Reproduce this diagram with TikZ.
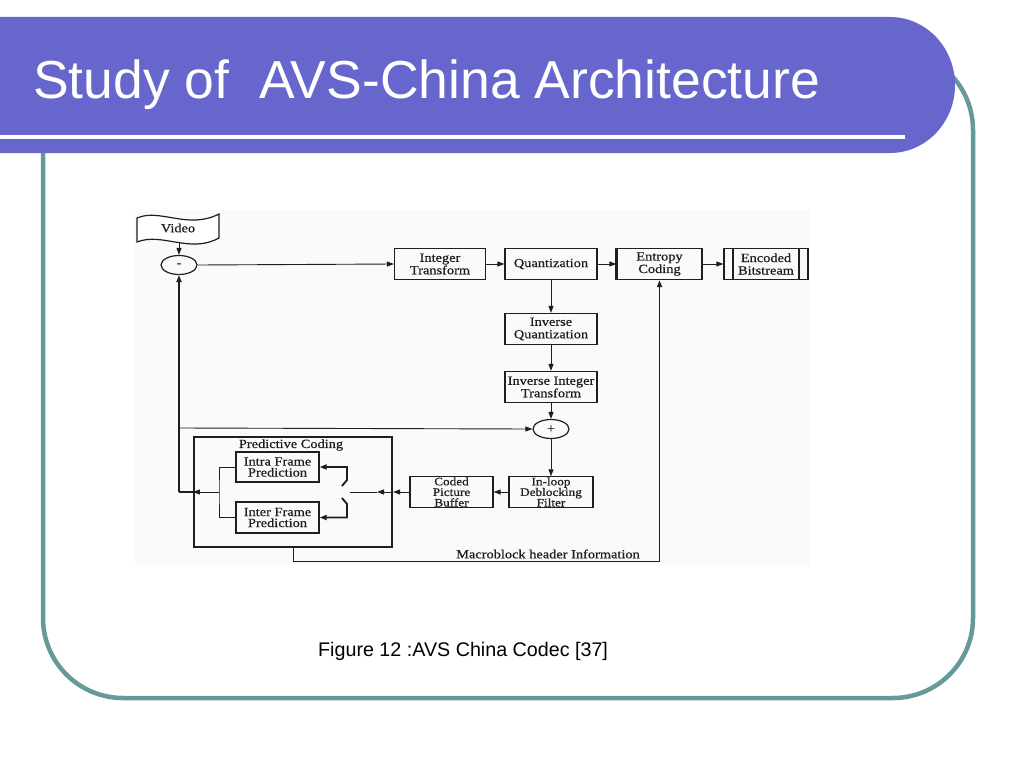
\documentclass[tikz,border=0pt]{standalone}
\usepackage{fontspec}
\setmainfont{Liberation Sans}
\newfontfamily\diagfont{Liberation Serif}[FakeStretch=1.15,FakeBold=0.6]
\usetikzlibrary{arrows.meta,shapes.geometric}
\definecolor{hdr}{RGB}{102,102,204}
\definecolor{tealframe}{RGB}{102,153,153}
\definecolor{ink}{RGB}{30,30,30}
\begin{document}
\begin{tikzpicture}[x=1pt,y=-1pt,
  dfont/.style={font=\diagfont\fontsize{12.5}{12.5}\selectfont},
  tfont/.style={font=\diagfont\fontsize{11.5}{10.6}\selectfont},
  blk/.style={draw=ink, line width=1.2pt, inner sep=0.5pt, align=center, text=ink, dfont, minimum height=31},
  circ/.style={draw=ink, line width=1.2pt, ellipse, inner sep=0pt, minimum width=36, minimum height=19, dfont, text=ink},
  lbl/.style={inner sep=0pt, text=ink, dfont},
  arr/.style={draw=ink, line width=0.9pt, -{Triangle[length=7pt,width=5pt]}},
  ln/.style={draw=ink, line width=0.9pt},
  thk/.style={line width=1.9pt}
]
\useasboundingbox (0,0) rectangle (1024,768);
\fill[white] (0,0) rectangle (1024,768);
% slide frame
\draw[tealframe, line width=4.5pt, rounded corners=80] (43,50) rectangle (973,698);
\fill[hdr] (0,17) -- (890,17) arc[start angle=-90, end angle=90, x radius=65, y radius=68] -- (0,153) -- cycle;
\fill[white] (0,135) rectangle (905,139);
\node[anchor=base west, inner sep=0pt, white, font=\fontsize{53.5}{60}\selectfont] (title) at (33,98) {Study of\ \ AVS-China Architecture};
\node[anchor=base west, inner sep=0pt, black, font=\fontsize{19.7}{22}\selectfont] (caption) at (318,656) {Figure 12 :AVS China Codec [37]};
% diagram background
\fill[black!2] (135,210) rectangle (810,565);
% video flag
\draw[ink, line width=1.2pt, fill=white] (137,218) .. controls (160,208) and (188,230) .. (219,214) -- (219,238) .. controls (190,254) and (162,232) .. (137,242) -- cycle;
\node[lbl] (video) at (178,228) {Video};
\coordinate (vbot) at (179,243);
% nodes
\node[circ] (minus) at (179,265) {-};
\node[blk, minimum width=91] (it) at (440,264) {Integer\\Transform};
\node[blk, minimum width=92] (q) at (551,264) {Quantization};
\node[blk, minimum width=85] (ec) at (659.5,264) {Entropy\\Coding};
\draw[ink, line width=2.2pt] (ec.north west) -- (ec.south west);
\node[blk, minimum width=84] (eb) at (766,264) {Encoded\\Bitstream};
\draw[ink, line width=1.9pt] ([xshift=10]eb.north west) -- ([xshift=10]eb.south west);
\draw[ink, line width=1.9pt] ([xshift=-10]eb.north east) -- ([xshift=-10]eb.south east);
\node[blk, minimum width=92] (iq) at (551,329) {Inverse\\Quantization};
\node[blk, minimum width=92] (iit) at (551,387) {Inverse Integer\\Transform};
\node[circ] (plus) at (551,429) {+};
\node[blk, minimum width=84, minimum height=30, tfont] (dbf) at (551,492) {In-loop\\Deblocking\\Filter};
\node[blk, minimum width=83, minimum height=30, tfont] (cpb) at (451.5,492) {Coded\\Picture\\Buffer};
\node[draw=ink, line width=2.2pt, minimum width=198, minimum height=110, inner sep=0pt] (pc) at (293,492) {};
\node[lbl] (pct) at (291,445) {Predictive Coding};
\node[blk, minimum width=83, minimum height=30, font=\diagfont\fontsize{12.5}{11}\selectfont] (intra) at (277.5,467) {Intra Frame\\Prediction};
\node[blk, minimum width=83, minimum height=31, font=\diagfont\fontsize{12.5}{11}\selectfont] (inter) at (277.5,517.5) {Inter Frame\\Prediction};
\node[lbl] (mbh) at (548,554) {Macroblock header Information};
% coordinates
\coordinate (sw) at (350,492);
\coordinate (swm) at (377,492);
\coordinate (su) at (342,486);
\coordinate (sl) at (342,498);
\coordinate (bus) at (219,492);
\coordinate (fb) at (179,492);
\coordinate (fb2) at (179,428);
\coordinate (mb) at (ec.south |- 0,561);
% connectors
\draw[arr] (vbot) -- (minus.north);
\draw[arr] (minus.east) -- (it.west);
\draw[arr] (it) -- (q);
\draw[arr] (q) -- (ec);
\draw[arr] (ec) -- (eb);
\draw[arr] (q) -- (iq);
\draw[arr] (iq) -- (iit);
\draw[arr] (iit) -- (plus);
\draw[arr] (plus) -- (dbf);
\draw[arr] (dbf) -- (cpb);
\draw[arr] (cpb.west) -- (pc.east);
\draw[arr] (pc.east) -- (swm);
\draw[ln] (swm) -- (sw);
\draw[arr, thk] (su) -- ++(5,-6) |- (intra.east);
\draw[arr, thk] (sl) -- ++(5,6) |- (inter.east);
\draw[ln] (intra.west) -| (bus) |- (inter.west);
\draw[arr] (bus) -- (pc.west);
\draw[ln, thk] (pc.west) -- (fb);
\draw[arr, thk] (fb) -- (minus.south);
\draw[arr] (fb2) -- (plus.west);
\draw[ln] (pc.south) |- (mb);
\draw[arr, thk] (mb) -- (ec.south);
\end{tikzpicture}
\end{document}
